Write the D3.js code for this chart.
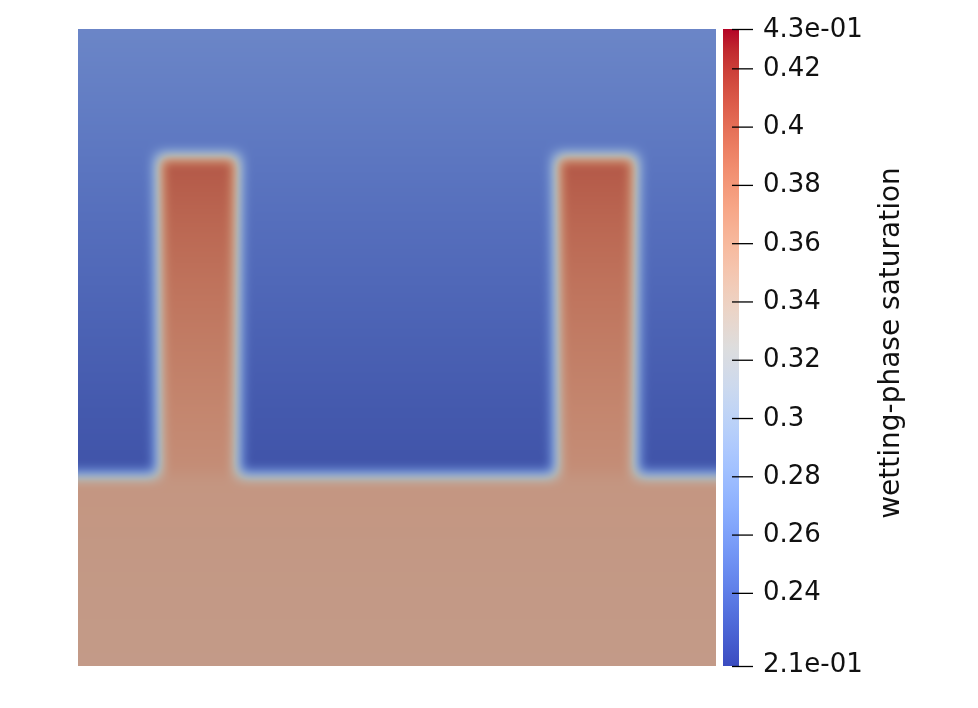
<!DOCTYPE html>
<html>
  <meta charset="utf-8">
  <head>
    <script src="https://d3js.org/d3.v7.min.js"></script>
    <style>
      body { margin: 0; background: #fff; }
      #viz { position: relative; width: 978px; height: 708px; }
      #viz canvas, #viz svg { position: absolute; left: 0; top: 0; }
    </style>
  </head>
  <body>
    <div id="viz"></div>

    <script type="text/javascript">
      // value range of the colour bar
      var valueMin = 0.2149;
      var valueMax = 0.4335;
      var tickValues = [0.24, 0.26, 0.28, 0.3, 0.32, 0.34, 0.36, 0.38, 0.4, 0.42];
      var tickLabels = ["0.24", "0.26", "0.28", "0.3", "0.32", "0.34", "0.36", "0.38", "0.4", "0.42"];
      var minLabel = "2.1e-01";
      var maxLabel = "4.3e-01";
      var title = "wetting-phase saturation";

      // geometry of the domain (unit square)
      var layerTop = 0.3;
      var fingerTop = 0.8;
      var fingers = [[0.125, 0.25], [0.75, 0.875]];

      // vertical profiles of saturation, height -> value
      var blueHeights = [0.3, 0.4, 0.5, 0.6, 0.7, 0.8, 0.9, 1.0];
      var blueValues = [0.226, 0.230, 0.235, 0.240, 0.245, 0.251, 0.257, 0.263];
      var fingerHeights = [0.3, 0.4, 0.5, 0.6, 0.7, 0.8];
      var fingerValues = [0.366, 0.372, 0.379, 0.386, 0.394, 0.403];
      var layerHeights = [0.0, 0.15, 0.3];
      var layerValues = [0.354, 0.356, 0.359];

      // cool to warm colour map
      var cmap = [
        [59,76,192],[68,90,204],[77,104,215],[87,117,225],[98,130,234],[108,142,241],
        [119,154,247],[130,165,251],[141,176,254],[152,185,255],[163,194,255],[174,201,253],
        [184,208,249],[194,213,244],[204,217,238],[213,219,230],[221,221,221],[229,216,209],
        [236,211,197],[241,204,185],[245,196,173],[247,187,160],[247,177,148],[247,166,135],
        [244,154,123],[241,141,111],[236,127,99],[229,112,88],[222,96,77],[213,80,66],
        [203,62,56],[192,40,47],[180,4,38]
      ];

      var fieldLeft = 78, fieldRight = 716, fieldTop = 29, fieldBottom = 666;
      // field is drawn lit, a bit darker and duller than the colour bar
      var shade = 0.76, lift = 8;

      var x = d3.scaleLinear().domain([0, 1]).range([fieldLeft, fieldRight]);
      var y = d3.scaleLinear().domain([0, 1]).range([fieldBottom, fieldTop]);
      var cbarY = d3.scaleLinear().domain([valueMin, valueMax]).range([fieldBottom, fieldTop]);

      var tStops = cmap.map((c, i) => i / (cmap.length - 1));
      // range given as [r,g,b] arrays so the scale returns arrays
      var color = d3.scaleLinear()
        .domain(tStops.map((t) => valueMin + t * (valueMax - valueMin)))
        .range(cmap)
        .clamp(true);

      var blue = d3.scaleLinear().domain(blueHeights).range(blueValues).clamp(true);
      var finger = d3.scaleLinear().domain(fingerHeights).range(fingerValues).clamp(true);
      var layer = d3.scaleLinear().domain(layerHeights).range(layerValues).clamp(true);

      function valueAt(fx, fy) {
        if (fy <= layerTop) return layer(fy);
        if (fy <= fingerTop && fingers.some((f) => fx >= f[0] && fx <= f[1])) return finger(fy);
        return blue(fy);
      }

      // sample the field
      var W = fieldRight - fieldLeft, H = fieldBottom - fieldTop;
      var field = new Float32Array(W * H);
      for (var j = 0; j < H; j++) {
        var fy = y.invert(fieldTop + j + 0.5);
        for (var i = 0; i < W; i++) {
          field[j * W + i] = valueAt(x.invert(fieldLeft + i + 0.5), fy);
        }
      }

      // smooth the fronts (box blur, 3 passes, clamped edges)
      function boxBlur(src, w, h, r, horizontal) {
        var out = new Float32Array(src.length);
        var n = horizontal ? w : h, m = horizontal ? h : w;
        for (var a = 0; a < m; a++) {
          for (var b = 0; b < n; b++) {
            var s = 0;
            for (var k = -r; k <= r; k++) {
              var bb = Math.min(n - 1, Math.max(0, b + k));
              s += horizontal ? src[a * w + bb] : src[bb * w + a];
            }
            if (horizontal) out[a * w + b] = s / (2 * r + 1);
            else out[b * w + a] = s / (2 * r + 1);
          }
        }
        return out;
      }
      for (var p = 0; p < 3; p++) {
        field = boxBlur(field, W, H, 6, true);
        field = boxBlur(field, W, H, 6, false);
      }

      var canvas = d3.select("#viz").append("canvas")
        .attr("width", 978)
        .attr("height", 708);
      var ctx = canvas.node().getContext("2d");
      var img = ctx.createImageData(W, H);
      for (var q = 0; q < W * H; q++) {
        var c = color(field[q]);
        img.data[q * 4] = c[0] * shade + lift;
        img.data[q * 4 + 1] = c[1] * shade + lift;
        img.data[q * 4 + 2] = c[2] * shade + lift;
        img.data[q * 4 + 3] = 255;
      }
      ctx.putImageData(img, fieldLeft, fieldTop);

      var svg = d3.select("#viz").append("svg")
        .attr("width", 978)
        .attr("height", 708);

      // colour bar
      var grad = svg.append("defs").append("linearGradient")
        .attr("id", "cbar")
        .attr("x1", 0).attr("y1", 1).attr("x2", 0).attr("y2", 0);
      grad.selectAll("stop")
        .data(cmap)
        .enter()
        .append("stop")
          .attr("offset", (d, i) => tStops[i])
          .attr("stop-color", (d) => d3.rgb(d[0], d[1], d[2]));

      svg.append("rect")
        .attr("x", 723)
        .attr("y", cbarY(valueMax))
        .attr("width", 16)
        .attr("height", cbarY(valueMin) - cbarY(valueMax))
        .attr("fill", "url(#cbar)");

      var labels = tickValues.map((v, i) => ({v: v, text: tickLabels[i], dy: 7.5}));
      labels.unshift({v: valueMax, text: maxLabel, dy: 7.5});
      labels.push({v: valueMin, text: minLabel, dy: 5.5});

      var tick = svg.selectAll("g.tick")
        .data(labels)
        .enter()
        .append("g")
          .attr("class", "tick")
          .attr("transform", (d) => "translate(0," + cbarY(d.v) + ")");
      tick.append("line")
        .attr("x1", 732).attr("x2", 753)
        .attr("y1", 0.5).attr("y2", 0.5)
        .attr("stroke", "#000")
        .attr("stroke-width", 1.3);
      tick.append("text")
        .attr("x", 763)
        .attr("y", (d) => d.dy)
        .attr("font-family", "DejaVu Sans")
        .attr("font-size", 26)
        .attr("fill", "#111")
        .text((d) => d.text);

      svg.append("text")
        .attr("transform", "translate(899,343) rotate(-90)")
        .attr("text-anchor", "middle")
        .attr("font-family", "DejaVu Sans")
        .attr("font-size", 28)
        .attr("fill", "#111")
        .text(title);
    </script>
  </body>
</html>
